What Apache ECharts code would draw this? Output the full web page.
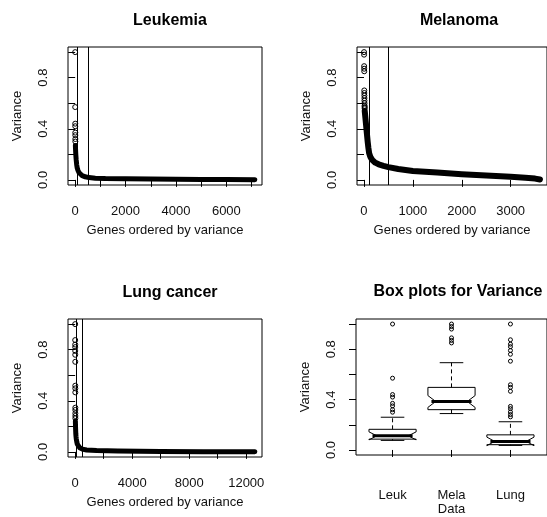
<!DOCTYPE html>
<html>
<head>
<meta charset="utf-8">
<script src="https://cdn.jsdelivr.net/npm/echarts@6/dist/echarts.min.js"></script>
<style>html,body{margin:0;padding:0;background:#fff}#c{width:547px;height:517px}</style>
</head>
<body>
<div id="c"></div>
<script>
// ---- data ----
const cutoffs = [100, 500];
const yTicks = [0, 0.2, 0.4, 0.6, 0.8, 1.0];
const yLabels = [0, 0.4, 0.8];

const leukTicks = [0, 1000, 2000, 3000, 4000, 5000, 6000, 7000];
const leukLabels = [0, 2000, 4000, 6000];
const leukOutIdx = [1, 2, 3, 4, 5, 6, 7, 8];
const leukOutVar = [1.0, 0.57, 0.44, 0.42, 0.37, 0.35, 0.32, 0.30];
const leukIdx = [9, 15, 25, 40, 60, 80, 110, 150, 200, 280, 400, 550, 800, 1200, 2000, 3000, 4000, 5000, 6000, 7129];
const leukVar = [0.27, 0.24, 0.2, 0.16, 0.12, 0.095, 0.075, 0.058, 0.045, 0.033, 0.024, 0.018, 0.013, 0.01, 0.008, 0.006, 0.005, 0.004, 0.003, 0.001];

const melaTicks = [0, 1000, 2000, 3000];
const melaLabels = [0, 1000, 2000, 3000];
const melaOutIdx = [1, 2, 3, 4, 5, 6, 7, 8, 9, 10, 11, 12, 13, 14];
const melaOutVar = [1.0, 0.98, 0.89, 0.87, 0.85, 0.70, 0.68, 0.66, 0.64, 0.62, 0.60, 0.58, 0.57, 0.56];
const melaIdx = [15, 30, 45, 60, 75, 90, 105, 130, 170, 230, 300, 400, 500, 700, 1000, 1500, 2000, 2500, 3000, 3300, 3500, 3600];
const melaVar = [0.54, 0.48, 0.42, 0.36, 0.30, 0.25, 0.21, 0.18, 0.155, 0.135, 0.122, 0.11, 0.1, 0.085, 0.07, 0.057, 0.045, 0.035, 0.025, 0.017, 0.01, 0.003];

const lungTicks = [0, 2000, 4000, 6000, 8000, 10000, 12000];
const lungLabels = [0, 4000, 8000, 12000];
const lungOutIdx = [1, 2, 3, 4, 5, 6, 7, 8, 9, 10, 11, 12, 13, 14, 15];
const lungOutVar = [1.0, 0.875, 0.84, 0.82, 0.79, 0.76, 0.705, 0.518, 0.497, 0.466, 0.346, 0.328, 0.302, 0.281, 0.263];
const lungIdx = [16, 20, 30, 45, 60, 80, 110, 150, 220, 320, 500, 800, 1500, 3000, 6000, 9000, 12600];
const lungVar = [0.24, 0.22, 0.18, 0.14, 0.12, 0.10, 0.08, 0.06, 0.045, 0.032, 0.022, 0.015, 0.01, 0.007, 0.004, 0.002, 0.001];

const boxNames = ['Leuk', 'Mela', 'Lung'];
const boxPos = [1, 2, 3];
const boxLow = [0.076, 0.289, 0.036];
const boxQ1 = [0.086, 0.32, 0.042];
const boxMed = [0.112, 0.385, 0.068];
const boxQ3 = [0.164, 0.497, 0.12];
const boxHigh = [0.26, 0.693, 0.224];
const notchLo = [0.08, 0.338, 0.034];
const notchHi = [0.144, 0.432, 0.102];
const boxOutLeuk = [1.0, 0.57, 0.44, 0.42, 0.37, 0.35, 0.32, 0.30];
const boxOutMela = [1.0, 0.98, 0.96, 0.89, 0.87, 0.85];
const boxOutLung = [1.0, 0.875, 0.84, 0.82, 0.79, 0.76, 0.705, 0.518, 0.497, 0.466, 0.346, 0.328, 0.302, 0.281, 0.263];

// ---- chart ----
const FONT = '"Liberation Sans", Arial, sans-serif';
const TXT = '#111';
const zip = (a, b) => a.map((v, i) => [v, b[i]]);

function xAxisDef(gi, min, max, ticks, labels, name) {
  return {
    type: 'value', gridIndex: gi, min: min, max: max,
    name: name, nameLocation: 'middle', nameGap: 39,
    nameTextStyle: { fontFamily: FONT, fontSize: 13, color: TXT },
    axisLine: { show: false },
    axisTick: { show: true, length: 7, lineStyle: { color: '#000' }, customValues: ticks },
    axisLabel: { fontFamily: FONT, fontSize: 13, color: TXT, margin: 20, customValues: labels,
      formatter: v => String(v) },
    splitLine: { show: false }
  };
}
function yAxisDef(gi) {
  return {
    type: 'value', gridIndex: gi, min: -0.04, max: 1.04,
    name: 'Variance', nameLocation: 'middle', nameGap: 44, nameRotate: 90,
    nameTextStyle: { fontFamily: FONT, fontSize: 13, color: TXT },
    axisLine: { show: false },
    axisTick: { show: true, length: 7, lineStyle: { color: '#000' }, customValues: yTicks },
    axisLabel: { fontFamily: FONT, fontSize: 13, color: TXT, margin: 18, rotate: 90, customValues: yLabels,
      formatter: v => Number(v).toFixed(1) },
    splitLine: { show: false }
  };
}
function curveSeries(gi, idx, vals, width) {
  return {
    type: 'line', xAxisIndex: gi, yAxisIndex: gi, data: zip(idx, vals),
    showSymbol: false, symbol: 'none', silent: true, animation: false,
    lineStyle: { color: '#000', width: width, cap: 'round', join: 'round' },
    markLine: {
      silent: true, symbol: ['none', 'none'], label: { show: false },
      lineStyle: { color: '#000', width: 1, type: 'solid' },
      data: cutoffs.map(c => ({ xAxis: c }))
    }
  };
}
function outSeries(gi, idx, vals, size) {
  return {
    type: 'scatter', xAxisIndex: gi, yAxisIndex: gi, data: zip(idx, vals),
    symbol: 'circle', symbolSize: size, silent: true, animation: false, z: 5,
    itemStyle: { color: 'rgba(255,255,255,0)', borderColor: '#000', borderWidth: 1, opacity: 1 }
  };
}

const gridStyle = { show: true, borderColor: '#000', borderWidth: 1, backgroundColor: 'transparent' };
const titleStyle = { fontFamily: FONT, fontSize: 16, fontWeight: 'bold', color: '#000' };

const boxData = boxPos.map((p, i) => [p, boxLow[i], boxQ1[i], boxMed[i], boxQ3[i], boxHigh[i], notchLo[i], notchHi[i]]);
const boxOut = [];
[boxOutLeuk, boxOutMela, boxOutLung].forEach((arr, i) => arr.forEach(v => boxOut.push([boxPos[i], v])));

const option = {
  animation: false,
  backgroundColor: '#fff',
  title: [
    { text: 'Leukemia', left: 165, top: 8, textAlign: 'center', textStyle: titleStyle },
    { text: 'Melanoma', left: 454, top: 8, textAlign: 'center', textStyle: titleStyle },
    { text: 'Lung cancer', left: 165, top: 280, textAlign: 'center', textStyle: titleStyle },
    { text: 'Box plots for Variance', left: 453, top: 279, textAlign: 'center', textStyle: titleStyle }
  ],
  grid: [
    Object.assign({ left: 68, top: 47, width: 194, height: 138 }, gridStyle),
    Object.assign({ left: 357, top: 47, width: 194, height: 138 }, gridStyle),
    Object.assign({ left: 68, top: 319, width: 194, height: 138 }, gridStyle),
    Object.assign({ left: 356, top: 319, width: 195, height: 138 }, gridStyle)
  ],
  xAxis: [
    xAxisDef(0, -284, 7414, leukTicks, leukLabels, 'Genes ordered by variance'),
    xAxisDef(1, -143, 3744, melaTicks, melaLabels, 'Genes ordered by variance'),
    xAxisDef(2, -503, 13104, lungTicks, lungLabels, 'Genes ordered by variance'),
    (function () {
      const a = xAxisDef(3, 0.38, 3.62, boxPos, boxPos, 'Data');
      a.nameGap = 48;
      a.axisLabel.margin = 34;
      a.axisLabel.formatter = v => boxNames[Math.round(v) - 1];
      return a;
    })()
  ],
  yAxis: [yAxisDef(0), yAxisDef(1), yAxisDef(2), yAxisDef(3)],
  series: [
    curveSeries(0, leukIdx, leukVar, 5), outSeries(0, leukOutIdx, leukOutVar, 5),
    curveSeries(1, melaIdx, melaVar, 6), outSeries(1, melaOutIdx, melaOutVar, 5),
    curveSeries(2, lungIdx, lungVar, 5), outSeries(2, lungOutIdx, lungOutVar, 5),
    {
      type: 'custom', xAxisIndex: 3, yAxisIndex: 3, data: boxData, silent: true, animation: false,
      renderItem: function (params, api) {
        const x = api.value(0);
        const Y = v => api.coord([x, v])[1];
        const cx = api.coord([x, api.value(3)])[0];
        const w = api.size([0.8, 0])[0];
        const hw = w / 2, nw = hw * 0.67, mw = hw * 0.85, sw = hw * 0.5;
        const lo = api.value(1), q1 = api.value(2), med = api.value(3), q3 = api.value(4), hi = api.value(5);
        const nlo = api.value(6), nhi = api.value(7);
        const pts = [[cx - hw, Y(q1)], [cx - hw, Y(nlo)], [cx - nw, Y(med)], [cx - hw, Y(nhi)], [cx - hw, Y(q3)],
                     [cx + hw, Y(q3)], [cx + hw, Y(nhi)], [cx + nw, Y(med)], [cx + hw, Y(nlo)], [cx + hw, Y(q1)]];
        const ls = { stroke: '#000', lineWidth: 1, fill: null };
        const dash = { stroke: '#000', lineWidth: 1, lineDash: [4, 3] };
        return {
          type: 'group',
          children: [
            { type: 'polygon', shape: { points: pts }, style: ls },
            { type: 'line', shape: { x1: cx - mw, y1: Y(med), x2: cx + mw, y2: Y(med) }, style: { stroke: '#000', lineWidth: 3 } },
            { type: 'line', shape: { x1: cx, y1: Y(q3), x2: cx, y2: Y(hi) }, style: dash },
            { type: 'line', shape: { x1: cx, y1: Y(q1), x2: cx, y2: Y(lo) }, style: dash },
            { type: 'line', shape: { x1: cx - sw, y1: Y(hi), x2: cx + sw, y2: Y(hi) }, style: ls },
            { type: 'line', shape: { x1: cx - sw, y1: Y(lo), x2: cx + sw, y2: Y(lo) }, style: ls }
          ]
        };
      }
    },
    outSeries(3, boxOut.map(d => d[0]), boxOut.map(d => d[1]), 4)
  ]
};

const chart = echarts.init(document.getElementById('c'), null, { renderer: 'canvas' });
chart.setOption(option);
</script>
</body>
</html>
